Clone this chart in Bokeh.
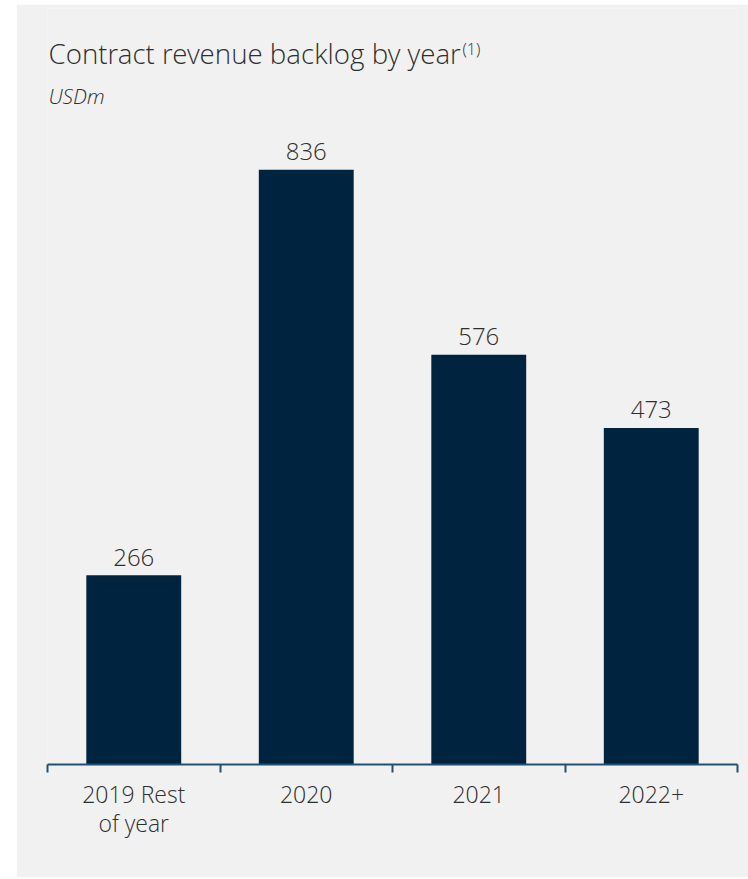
from bokeh.plotting import figure
from bokeh.models import Range1d, ColumnDataSource, LinearAxis, FixedTicker
from bokeh.core.properties import value
from bokeh.embed import file_html
from bokeh.resources import INLINE

# ---- data ----
categories = ["2019 Rest\nof year", "2020", "2021", "2022+"]
backlog = [266, 836, 576, 473]
value_labels = ["266", "836", "576", "473"]
title_text = "Contract revenue backlog by year"
title_sup = "(1)"
unit_text = "USDm"

# ---- style ----
BG = "#f1f1f1"
BAR = "#00243f"
AXIS = "#24506f"
TXT = "#2e2e2e"
FONT = "'Open Sans Light', 'Open Sans'"

Y_END = 1062.6
n = len(categories)
centers = [i + 0.5 for i in range(n)]

src = ColumnDataSource(dict(x=centers, val=backlog, lab=value_labels))

p = figure(
    x_range=Range1d(0, n),
    y_range=Range1d(0, Y_END),
    width=732, height=873,
    output_backend="svg", toolbar_location=None,
    x_axis_location=None, y_axis_location=None,
    min_border_left=31, min_border_right=11,
    min_border_top=4, min_border_bottom=113,
)
p.margin = (4, 0, 0, 16)
p.background_fill_color = BG
p.border_fill_color = BG
p.outline_line_color = None
p.xgrid.visible = False
p.ygrid.visible = False

p.vbar(x="x", top="val", width=0.55, source=src, fill_color=BAR, line_color=None)

p.text(x="x", y="val", text="lab", source=src, text_align="center",
       text_baseline="alphabetic", y_offset=-18, text_font=value(FONT),
       text_font_size="24px", text_color=TXT)

# title / subtitle drawn at the top-left of the frame
p.text(x=[0], y=[Y_END], text=[title_text], x_offset=1, y_offset=44,
       text_baseline="alphabetic", text_align="left", text_font=value(FONT),
       text_font_size="27.7px", text_color=TXT)
p.text(x=[0], y=[Y_END], text=[title_sup], x_offset=415, y_offset=40,
       text_baseline="alphabetic", text_align="left", text_font=value(FONT),
       text_font_size="16px", text_color=TXT)
p.text(x=[0], y=[Y_END], text=[unit_text], x_offset=1, y_offset=87.6,
       text_baseline="alphabetic", text_align="left", text_font=value(FONT),
       text_font_size="21px", text_font_style="italic", text_color=TXT)

# axis with ticks at the category boundaries (no labels)
edge_axis = LinearAxis(ticker=FixedTicker(ticks=list(range(n + 1))))
edge_axis.axis_line_color = AXIS
edge_axis.axis_line_width = 2
edge_axis.major_tick_line_color = AXIS
edge_axis.major_tick_line_width = 2
edge_axis.major_tick_out = 8
edge_axis.major_tick_in = 0
edge_axis.minor_tick_line_color = None
edge_axis.major_label_text_font_size = "1px"
edge_axis.major_label_text_color = None
edge_axis.major_label_standoff = 0
p.add_layout(edge_axis, "below")

# category labels (no line, no ticks) at the bar centres
cat_axis = LinearAxis(ticker=FixedTicker(ticks=centers),
                      major_label_overrides={c: lab for c, lab in zip(centers, categories)})
cat_axis.axis_line_color = None
cat_axis.major_tick_line_color = None
cat_axis.minor_tick_line_color = None
cat_axis.major_tick_out = 0
cat_axis.major_tick_in = 0
cat_axis.major_label_text_font = FONT
cat_axis.major_label_text_font_size = "23px"
cat_axis.major_label_text_color = TXT
cat_axis.major_label_text_line_height = 0.92
cat_axis.major_label_standoff = 5
p.add_layout(cat_axis, "below")

open("out.html", "w").write(file_html(p, INLINE))
